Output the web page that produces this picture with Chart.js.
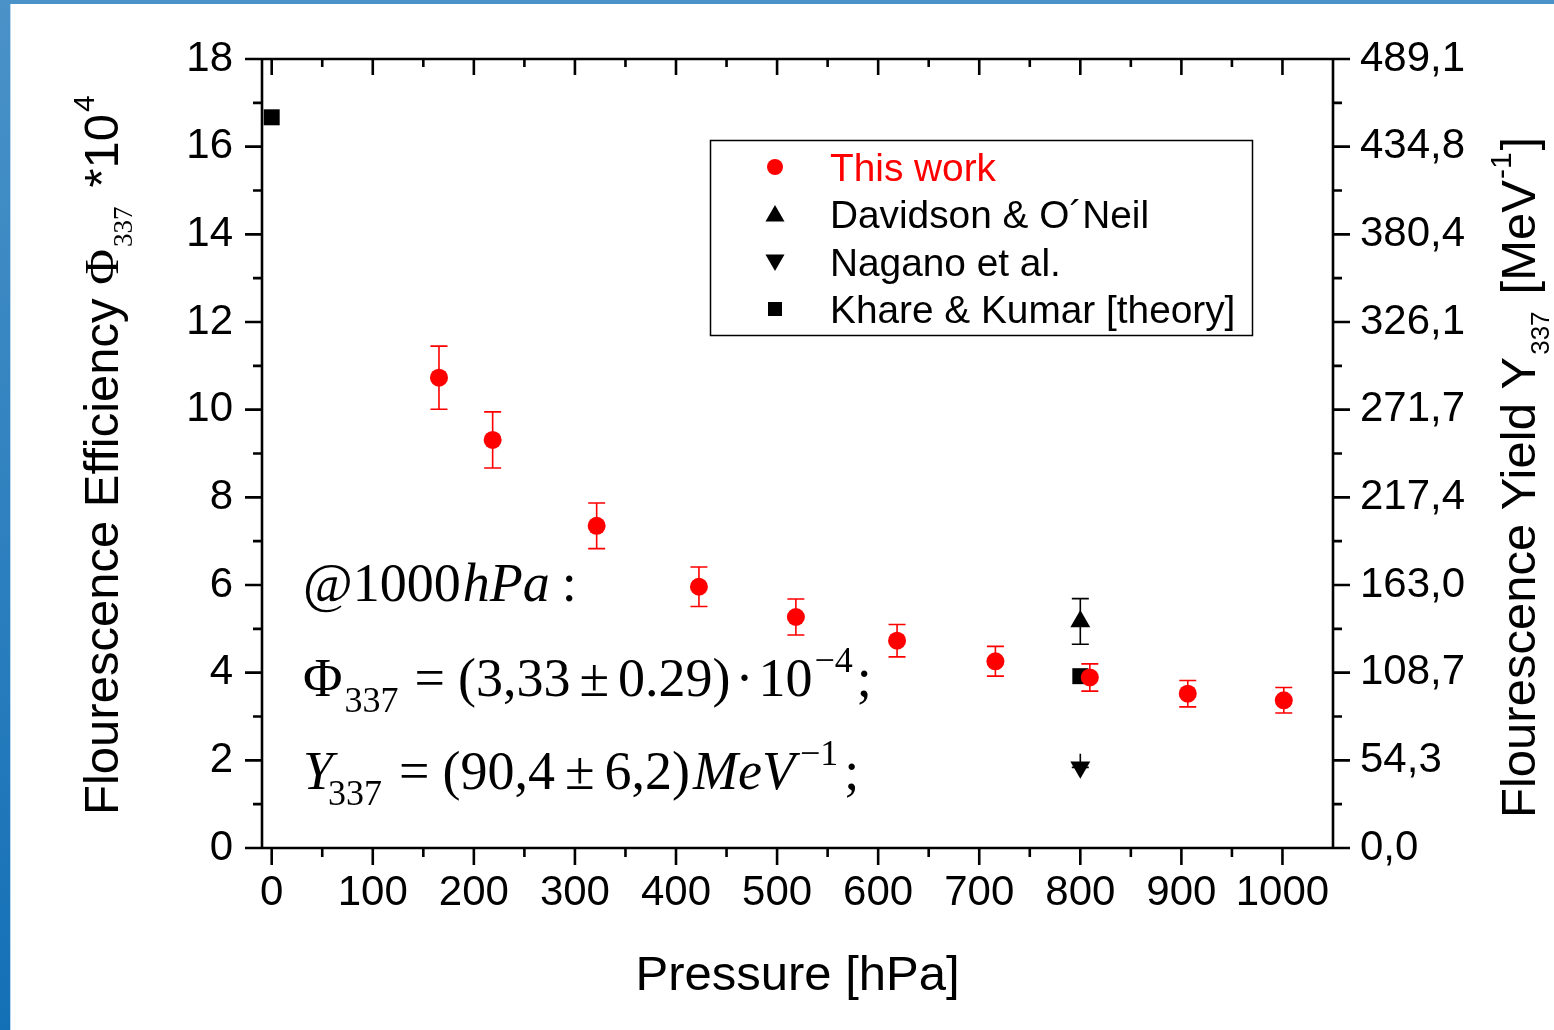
<!DOCTYPE html>
<html>
<head>
<meta charset="utf-8">
<script src="https://cdn.jsdelivr.net/npm/chart.js@4.4.1/dist/chart.umd.min.js"></script>
<style>
html,body{margin:0;padding:0;background:#fff;}
#wrap{position:relative;width:1554px;height:1030px;overflow:hidden;background:#fff;}
#bt{position:absolute;left:0;top:0;width:1554px;height:4px;background:#4a92c8;}
#bl{position:absolute;left:0;top:0;width:10px;height:1030px;background:linear-gradient(#4a92c8,#1470b6);}
#bl2{position:absolute;left:10px;top:4px;width:1px;height:1026px;background:#b8d6ee;}
canvas{position:absolute;left:0;top:0;}
</style>
</head>
<body>
<div id="wrap"><div id="bt"></div><div id="bl"></div><div id="bl2"></div><canvas id="c" width="1554" height="1030"></canvas></div>
<script>
// ---------- data ----------
const pressure      = [165.5, 218.6, 321.5, 422.7, 518.6, 618.7, 716, 809.4, 906.3, 1001.3];
const efficiency    = [10.73, 9.31, 7.35, 5.96, 5.27, 4.73, 4.26, 3.89, 3.52, 3.37];
const efficiencyErr = [0.72, 0.64, 0.52, 0.45, 0.41, 0.37, 0.34, 0.31, 0.30, 0.29];

const davidsonP   = [800];
const davidsonEff = [5.17];
const davidsonErr = [0.52];

const naganoP       = [800];
const naganoEff     = [1.84];
const naganoErrUp   = [0.31];
const naganoErrDown = [0.0];

const khareP   = [0, 800];
const khareEff = [16.67, 3.92];

const xTickValues = [0,100,200,300,400,500,600,700,800,900,1000];
const xMinorTicks = [50,150,250,350,450,550,650,750,850,950];
const yTickValues = [0,2,4,6,8,10,12,14,16,18];
const yMinorTicks = [1,3,5,7,9,11,13,15,17];
const yieldTickLabels = ['0,0','54,3','108,7','163,0','217,4','271,7','326,1','380,4','434,8','489,1'];

const legendLabels = ['This work','Davidson & O\u00B4Neil','Nagano et al.','Khare & Kumar [theory]'];

// ---------- layout constants ----------
const SANS = "'Liberation Sans', Arial, sans-serif";
const SERIF = "'Liberation Serif', 'Times New Roman', serif";
const AREA = {left:262, right:1333, top:59, bottom:848};

function toPts(xs, ys){ return xs.map((x,i)=>({x:x, y:ys[i]})); }

// ---------- plugins ----------
const errorBars = {
  id:'errorBars',
  beforeDatasetsDraw(chart){
    const ctx = chart.ctx, ys = chart.scales.y;
    chart.data.datasets.forEach((ds, di)=>{
      if(!ds.errUp) return;
      const meta = chart.getDatasetMeta(di);
      ctx.save();
      ctx.strokeStyle = ds.errColor; ctx.lineWidth = 1.6;
      meta.data.forEach((el, i)=>{
        const v = ds.data[i].y;
        const x = el.x, y1 = ys.getPixelForValue(v+ds.errUp[i]), y2 = ys.getPixelForValue(v-ds.errDown[i]);
        ctx.beginPath();
        ctx.moveTo(x, y1); ctx.lineTo(x, y2);
        if(ds.capTop !== false){ ctx.moveTo(x-8.5, y1); ctx.lineTo(x+8.5, y1); }
        ctx.moveTo(x-8.5, y2); ctx.lineTo(x+8.5, y2);
        ctx.stroke();
      });
      ctx.restore();
    });
  }
};

function drawRich(ctx, x, y, segs, rotate){
  ctx.save();
  ctx.translate(x, y);
  if(rotate) ctx.rotate(-Math.PI/2);
  ctx.textAlign='left'; ctx.textBaseline='alphabetic';
  let cx = 0;
  for(const s of segs){
    ctx.font = s.f; ctx.fillStyle = s.c || '#000';
    cx += (s.dx || 0);
    ctx.fillText(s.t, cx, s.dy || 0);
    cx += ctx.measureText(s.t).width;
  }
  ctx.restore();
}

function marker(ctx, style, x, y, r, color){
  ctx.save(); ctx.fillStyle = color; ctx.beginPath();
  if(style==='circle'){ ctx.arc(x,y,r,0,Math.PI*2); }
  else if(style==='tri'){ ctx.moveTo(x, y-r); ctx.lineTo(x+r*0.866, y+r*0.5); ctx.lineTo(x-r*0.866, y+r*0.5); ctx.closePath(); }
  else if(style==='tridown'){ ctx.moveTo(x, y+r); ctx.lineTo(x+r*0.866, y-r*0.5); ctx.lineTo(x-r*0.866, y-r*0.5); ctx.closePath(); }
  else if(style==='rect'){ ctx.rect(x-r, y-r, 2*r, 2*r); }
  ctx.fill(); ctx.restore();
}

const frame = {
  id:'frame',
  afterDraw(chart){
    const ctx = chart.ctx, a = chart.chartArea;
    const xs = chart.scales.x, ys = chart.scales.y;
    ctx.save();
    ctx.strokeStyle = '#000'; ctx.lineWidth = 2.6; ctx.lineCap = 'butt';
    ctx.beginPath();
    ctx.moveTo(a.left, a.top); ctx.lineTo(a.right, a.top);
    ctx.moveTo(a.left, a.bottom); ctx.lineTo(a.right, a.bottom);
    ctx.moveTo(a.left, a.top-1.3); ctx.lineTo(a.left, a.bottom+1.3);
    ctx.moveTo(a.right, a.top-1.3); ctx.lineTo(a.right, a.bottom+1.3);
    xTickValues.forEach(v=>{
      const p = xs.getPixelForValue(v);
      ctx.moveTo(p, a.bottom); ctx.lineTo(p, a.bottom+17);
      ctx.moveTo(p, a.top); ctx.lineTo(p, a.top+16);
    });
    xMinorTicks.forEach(v=>{
      const p = xs.getPixelForValue(v);
      ctx.moveTo(p, a.bottom); ctx.lineTo(p, a.bottom+9);
      ctx.moveTo(p, a.top); ctx.lineTo(p, a.top+8);
    });
    yTickValues.forEach(v=>{
      const p = ys.getPixelForValue(v);
      ctx.moveTo(a.left-17, p); ctx.lineTo(a.left, p);
      ctx.moveTo(a.right, p); ctx.lineTo(a.right+17, p);
    });
    yMinorTicks.forEach(v=>{
      const p = ys.getPixelForValue(v);
      ctx.moveTo(a.left-9, p); ctx.lineTo(a.left, p);
      ctx.moveTo(a.right, p); ctx.lineTo(a.right+9, p);
    });
    ctx.stroke();
    ctx.restore();

    // axis titles
    drawRich(ctx, 118, 815, [
      {t:'Flourescence Efficiency ', f:'49px '+SANS},
      {t:'\u03A6', f:'49px '+SERIF},
      {t:'337', f:'27px '+SERIF, dy:14, dx:2},
      {t:'*10', f:'49px '+SANS, dx:19},
      {t:'4', f:'30px '+SANS, dy:-24, dx:2}
    ], true);
    drawRich(ctx, 1535, 818, [
      {t:'Flourescence Yield Y', f:'49px '+SANS},
      {t:'337', f:'26px '+SANS, dy:14, dx:2},
      {t:'[MeV', f:'49px '+SANS, dx:17},
      {t:'-1', f:'30px '+SANS, dy:-24, dx:1},
      {t:']', f:'49px '+SANS, dx:2}
    ], true);
    ctx.save();
    ctx.font = '49px '+SANS; ctx.fillStyle='#000'; ctx.textAlign='center'; ctx.textBaseline='alphabetic';
    ctx.fillText('Pressure [hPa]', 797.5, 990);
    ctx.restore();

    // formula annotation
    const F = '54px '+SERIF, FI = 'italic 54px '+SERIF, FS = '36px '+SERIF;
    drawRich(ctx, 303, 601, [
      {t:'@1000', f:F}, {t:'hPa', f:FI, dx:2}, {t:':', f:F, dx:12}
    ]);
    drawRich(ctx, 303, 696, [
      {t:'\u03A6', f:F}, {t:'337', f:FS, dy:16, dx:2},
      {t:'=', f:F, dx:16}, {t:'(3,33', f:F, dx:13},
      {t:'\u00B1', f:F, dx:9}, {t:'0.29)', f:F, dx:9},
      {t:'\u00B7', f:F, dx:5}, {t:'10', f:F, dx:5},
      {t:'\u22124', f:FS, dy:-24, dx:2}, {t:';', f:F, dx:4}
    ]);
    drawRich(ctx, 303, 789, [
      {t:'Y', f:FI}, {t:'337', f:FS, dy:16, dx:-5},
      {t:'=', f:F, dx:17}, {t:'(90,4', f:F, dx:13},
      {t:'\u00B1', f:F, dx:10}, {t:'6,2)', f:F, dx:10},
      {t:'MeV', f:FI, dx:3}, {t:'\u22121', f:FS, dy:-24, dx:5}, {t:';', f:F, dx:6}
    ]);

    // legend
    ctx.save();
    ctx.strokeStyle = '#000'; ctx.lineWidth = 1.5;
    ctx.strokeRect(710.5, 140.5, 542, 195);
    ctx.restore();
    const rows = [167, 214, 262, 309];
    const styles = [['circle',8,'#ff0000'],['tri',11,'#000'],['tridown',11,'#000'],['rect',7,'#000']];
    rows.forEach((ry, i)=>{
      marker(ctx, styles[i][0], 775, ry + (i===1?2:(i===2?-2:0)), styles[i][1], styles[i][2]);
      ctx.save();
      ctx.font = '38.8px '+SANS; ctx.fillStyle = i===0 ? '#ff0000' : '#000';
      ctx.textAlign='left'; ctx.textBaseline='middle';
      ctx.fillText(legendLabels[i], 830, ry+3);
      ctx.restore();
    });
  }
};

// ---------- chart ----------
new Chart(document.getElementById('c'), {
  type:'scatter',
  data:{
    datasets:[
      {label:legendLabels[0], data:toPts(pressure, efficiency), errUp:efficiencyErr, errDown:efficiencyErr, errColor:'#ff0000',
       pointStyle:'circle', pointRadius:9, backgroundColor:'#ff0000', borderWidth:0},
      {label:legendLabels[1], data:toPts(davidsonP, davidsonEff), errUp:davidsonErr, errDown:davidsonErr, errColor:'#000',
       pointStyle:'triangle', pointRadius:11.5, backgroundColor:'#000', borderWidth:0},
      {label:legendLabels[2], data:toPts(naganoP, naganoEff), errUp:naganoErrUp, errDown:naganoErrDown, errColor:'#000', capTop:false,
       pointStyle:'triangle', rotation:180, pointRotation:180, pointRadius:11.5, backgroundColor:'#000', borderWidth:0},
      {label:legendLabels[3], data:toPts(khareP, khareEff),
       pointStyle:'rect', pointRadius:11.3, backgroundColor:'#000', borderWidth:0}
    ]
  },
  options:{
    responsive:false, animation:false, events:[],
    layout:{padding:0},
    plugins:{legend:{display:false}, tooltip:{enabled:false}},
    scales:{
      x:{type:'linear', position:'bottom', min:-9.6, max:1050,
         afterBuildTicks(s){ s.ticks = xTickValues.map(v=>({value:v})); },
         afterFit(s){ s.height = 1030 - AREA.bottom; },
         grid:{display:false, drawTicks:false, tickLength:0}, border:{display:false},
         ticks:{font:{family:SANS, size:42}, color:'#000', padding:20, maxRotation:0, autoSkip:false,
                callback:(v)=>String(v)}},
      x2:{type:'linear', position:'top', min:-9.6, max:1050,
         afterFit(s){ s.height = AREA.top; },
         grid:{display:false, drawTicks:false, tickLength:0}, border:{display:false},
         ticks:{display:false}},
      y:{type:'linear', position:'left', min:0, max:18,
         afterBuildTicks(s){ s.ticks = yTickValues.map(v=>({value:v})); },
         afterFit(s){ s.width = AREA.left; },
         grid:{display:false, drawTicks:false, tickLength:0}, border:{display:false},
         ticks:{font:{family:SANS, size:42}, color:'#000', padding:29, callback:(v)=>String(v)}},
      y2:{type:'linear', position:'right', min:0, max:18,
         afterBuildTicks(s){ s.ticks = yTickValues.map(v=>({value:v})); },
         afterFit(s){ s.width = 1554 - AREA.right; },
         grid:{display:false, drawTicks:false, tickLength:0}, border:{display:false},
         ticks:{font:{family:SANS, size:42}, color:'#000', padding:27,
                callback:(v, i)=>yieldTickLabels[i]}}
    }
  },
  plugins:[errorBars, frame]
});
</script>
</body>
</html>
